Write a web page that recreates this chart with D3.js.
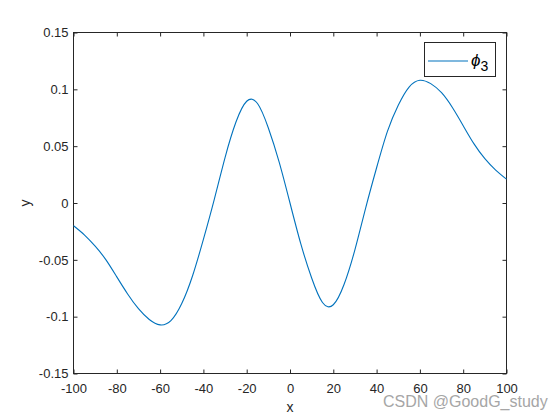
<!DOCTYPE html>
<html>
<head>
<meta charset="utf-8">
<script src="https://cdn.jsdelivr.net/npm/d3@7"></script>
<style>
  body { margin: 0; background: #fff; }
  svg { display: block; font-family: Arial, "Liberation Sans", Helvetica, sans-serif; }
</style>
</head>
<body>
<script>
let margin = {top: 32, right: 54, bottom: 47, left: 73},
    width = 560,
    height = 420;

// values, every 5 units of x
let xs = [-100, -95, -90, -85, -80, -75, -70, -65, -60, -55, -50, -45, -40, -35, -30, -25, -20, -15, -10, -5,
          0, 5, 10, 15, 20, 25, 30, 35, 40, 45, 50, 55, 60, 65, 70, 75, 80, 85, 90, 95, 100];
let ys = [-0.020, -0.028, -0.038, -0.050, -0.065, -0.080, -0.093, -0.1025, -0.1072, -0.1035, -0.0885, -0.064, -0.032, 0.003, 0.040, 0.071, 0.0895, 0.0875, 0.066, 0.036,
          0.000, -0.036, -0.066, -0.0875, -0.0895, -0.0715, -0.041, -0.004, 0.031, 0.063, 0.086, 0.102, 0.108, 0.105, 0.097, 0.084, 0.068, 0.052, 0.039, 0.029, 0.021];

let xTicks = [-100, -80, -60, -40, -20, 0, 20, 40, 60, 80, 100];
let xTickLabels = ["-100", "-80", "-60", "-40", "-20", "0", "20", "40", "60", "80", "100"];
let yTicks = [-0.15, -0.1, -0.05, 0, 0.05, 0.1, 0.15];
let yTickLabels = ["-0.15", "-0.1", "-0.05", "0", "0.05", "0.1", "0.15"];

let data = xs.map((x, i) => ({x: x, y: ys[i]}));

let x = d3.scaleLinear()
    .domain([-100, 100])
    .range([margin.left + 0.5, width - margin.right + 0.5]);

let y = d3.scaleLinear()
    .domain([-0.15, 0.15])
    .range([height - margin.bottom + 0.5, margin.top + 0.5]);

const axisColor = "#262626";

const svg = d3.select("body").append("svg")
    .attr("width", width)
    .attr("height", height)
    .attr("viewBox", [0, 0, width, height]);

let style = g => {
  g.select(".domain").remove();
  g.selectAll(".tick line").attr("stroke", axisColor);
  g.selectAll(".tick text").attr("fill", axisColor).attr("font-size", 13);
};

svg.append("g")
    .attr("transform", `translate(0,${y(-0.15)})`)
    .call(d3.axisBottom(x).tickValues(xTicks).tickFormat((d, i) => xTickLabels[i])
      .tickSizeInner(-4).tickSizeOuter(0).tickPadding(10))
    .call(style);

svg.append("g")
    .attr("transform", `translate(0,${y(0.15)})`)
    .call(d3.axisTop(x).tickValues(xTicks).tickFormat("").tickSizeInner(-4).tickSizeOuter(0))
    .call(style);

svg.append("g")
    .attr("transform", `translate(${x(-100)},0)`)
    .call(d3.axisLeft(y).tickValues(yTicks).tickFormat((d, i) => yTickLabels[i])
      .tickSizeInner(-4).tickSizeOuter(0).tickPadding(5))
    .call(style);

svg.append("g")
    .attr("transform", `translate(${x(100)},0)`)
    .call(d3.axisRight(y).tickValues(yTicks).tickFormat("").tickSizeInner(-4).tickSizeOuter(0))
    .call(style);

// axes box
svg.append("rect")
    .attr("x", x(-100))
    .attr("y", y(0.15))
    .attr("width", x(100) - x(-100))
    .attr("height", y(-0.15) - y(0.15))
    .attr("fill", "none")
    .attr("stroke", axisColor)
    .attr("stroke-width", 1);

let line = d3.line()
    .x(d => x(d.x))
    .y(d => y(d.y))
    .curve(d3.curveNatural);

svg.append("path")
    .datum(data)
    .attr("fill", "none")
    .attr("stroke", "#0072BD")
    .attr("stroke-width", 1.1)
    .attr("d", line);

// axis labels
svg.append("text")
    .attr("x", (x(-100) + x(100)) / 2)
    .attr("y", 412)
    .attr("text-anchor", "middle")
    .attr("font-size", 14)
    .attr("fill", axisColor)
    .text("x");

svg.append("text")
    .attr("transform", `translate(30,${y(0)}) rotate(-90)`)
    .attr("text-anchor", "middle")
    .attr("font-size", 14)
    .attr("fill", axisColor)
    .text("y");

// legend
const legend = svg.append("g");
legend.append("rect")
    .attr("x", 424.5)
    .attr("y", 42.5)
    .attr("width", 71)
    .attr("height", 34)
    .attr("fill", "#fff")
    .attr("stroke", axisColor)
    .attr("stroke-width", 1);
legend.append("line")
    .attr("x1", 428).attr("x2", 468)
    .attr("y1", 61).attr("y2", 61)
    .attr("stroke", "#0072BD")
    .attr("stroke-width", 1.1);
const lt = legend.append("text")
    .attr("x", 471)
    .attr("y", 66)
    .attr("fill", "#000");
lt.append("tspan")
    .attr("font-size", 17)
    .attr("font-style", "italic")
    .text("ϕ");
lt.append("tspan")
    .attr("font-size", 14)
    .attr("dy", 5)
    .text("3");

// watermark
svg.append("text")
    .attr("x", 383)
    .attr("y", 407)
    .attr("font-size", 16)
    .attr("fill", "#a6a6a6")
    .text("CSDN @GoodG_study");
</script>
</body>
</html>
